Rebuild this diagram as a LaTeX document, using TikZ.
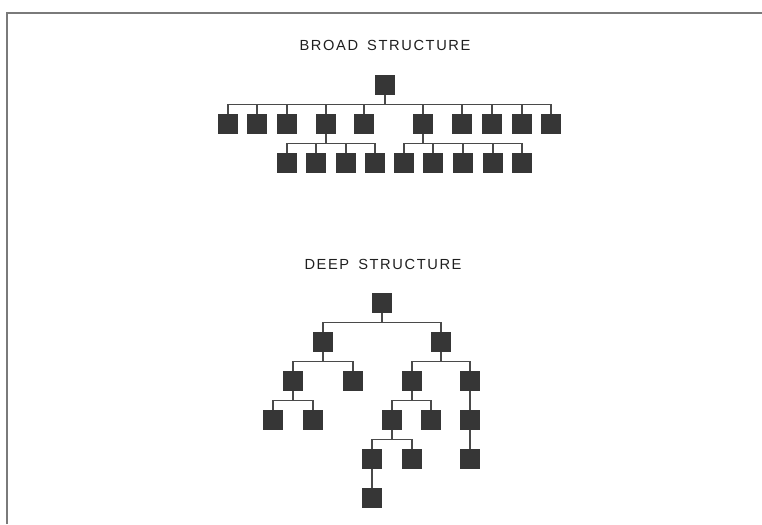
\documentclass[tikz,border=0pt]{standalone}
\usepackage{fontspec}
\setsansfont[LetterSpace=11, WordSpace=1.6]{Liberation Sans}
\usepackage{tikz}
\usetikzlibrary{positioning, calc}
\usepackage{xcolor}
\definecolor{boxgrey}{HTML}{363636}
\definecolor{linegrey}{HTML}{4A4A4A}
\definecolor{framegrey}{HTML}{7A7A7A}

\begin{document}
\begin{tikzpicture}[
    x=0.03cm, y=-0.03cm,
    box/.style = {rectangle, draw=boxgrey, fill=boxgrey, inner sep=0pt, minimum size=0.57cm},
    link/.style = {draw=linegrey, line width=1.1pt},
    heading/.style = {font=\sffamily\fontsize{12.5}{14}\selectfont, text=black!88},
    frame/.style = {draw=framegrey, line width=1.4pt}
]
\useasboundingbox (0,0) rectangle (762,524);

% Frame
\coordinate (fl) at (7,524);
\coordinate (fc) at (7,13);
\coordinate (fr) at (762,13);
\draw[frame] (fl) -- (fc) -- (fr);

% Titles
\node[heading] (tbroad) at (385,45) {BROAD STRUCTURE};
\node[heading] (tdeep) at (383,264) {DEEP STRUCTURE};

% Broad structure
\node[box] (r) at (385,85) {};
% Row 1
\node[box] (a1) at (228,124) {};
\node[box] (a2) at (257,124) {};
\node[box] (a3) at (287,124) {};
\node[box] (a4) at (326,124) {};
\node[box] (a5) at (364,124) {};
\node[box] (a6) at (423,124) {};
\node[box] (a7) at (462,124) {};
\node[box] (a8) at (492,124) {};
\node[box] (a9) at (522,124) {};
\node[box] (a10) at (551,124) {};
% Row 2
\node[box] (b1) at (287,163) {};
\node[box] (b2) at (316,163) {};
\node[box] (b3) at (346,163) {};
\node[box] (b4) at (375,163) {};
\node[box] (b5) at (404,163) {};
\node[box] (b6) at (433,163) {};
\node[box] (b7) at (463,163) {};
\node[box] (b8) at (493,163) {};
\node[box] (b9) at (522,163) {};

% Broad edges
\draw[link] (r.south) -- ++(0,9.5) -| (a1.north);
\draw[link] (r.south) -- ++(0,9.5) -| (a2.north);
\draw[link] (r.south) -- ++(0,9.5) -| (a3.north);
\draw[link] (r.south) -- ++(0,9.5) -| (a4.north);
\draw[link] (r.south) -- ++(0,9.5) -| (a5.north);
\draw[link] (r.south) -- ++(0,9.5) -| (a6.north);
\draw[link] (r.south) -- ++(0,9.5) -| (a7.north);
\draw[link] (r.south) -- ++(0,9.5) -| (a8.north);
\draw[link] (r.south) -- ++(0,9.5) -| (a9.north);
\draw[link] (r.south) -- ++(0,9.5) -| (a10.north);

\draw[link] (a4.south) -- ++(0,9.5) -| (b1.north);
\draw[link] (a4.south) -- ++(0,9.5) -| (b2.north);
\draw[link] (a4.south) -- ++(0,9.5) -| (b3.north);
\draw[link] (a4.south) -- ++(0,9.5) -| (b4.north);

\draw[link] (a6.south) -- ++(0,9.5) -| (b5.north);
\draw[link] (a6.south) -- ++(0,9.5) -| (b6.north);
\draw[link] (a6.south) -- ++(0,9.5) -| (b7.north);
\draw[link] (a6.south) -- ++(0,9.5) -| (b8.north);
\draw[link] (a6.south) -- ++(0,9.5) -| (b9.north);

% Deep structure
\node[box] (d) at (382,303) {};
% Level 1
\node[box] (dl) at (323,342) {};
\node[box] (dr) at (441,342) {};
% Level 2
\node[box] (dll) at (293,381) {};
\node[box] (dlr) at (353,381) {};
\node[box] (drl) at (412,381) {};
\node[box] (drr) at (470,381) {};
% Level 3
\node[box] (dlll) at (273,420) {};
\node[box] (dllr) at (313,420) {};
\node[box] (drll) at (392,420) {};
\node[box] (drlr) at (431,420) {};
\node[box] (drrc) at (470,420) {};
% Level 4
\node[box] (drlll) at (372,459) {};
\node[box] (drllr) at (412,459) {};
\node[box] (drrcc) at (470,459) {};
% Level 5
\node[box] (drllll) at (372,498) {};

% Deep edges
\draw[link] (d.south) -- ++(0,9.5) -| (dl.north);
\draw[link] (d.south) -- ++(0,9.5) -| (dr.north);

\draw[link] (dl.south) -- ++(0,9.5) -| (dll.north);
\draw[link] (dl.south) -- ++(0,9.5) -| (dlr.north);
\draw[link] (dr.south) -- ++(0,9.5) -| (drl.north);
\draw[link] (dr.south) -- ++(0,9.5) -| (drr.north);

\draw[link] (dll.south) -- ++(0,9.5) -| (dlll.north);
\draw[link] (dll.south) -- ++(0,9.5) -| (dllr.north);
\draw[link] (drl.south) -- ++(0,9.5) -| (drll.north);
\draw[link] (drl.south) -- ++(0,9.5) -| (drlr.north);
\draw[link] (drr.south) -- (drrc.north);

\draw[link] (drll.south) -- ++(0,9.5) -| (drlll.north);
\draw[link] (drll.south) -- ++(0,9.5) -| (drllr.north);
\draw[link] (drrc.south) -- (drrcc.north);

\draw[link] (drlll.south) -- (drllll.north);

\end{tikzpicture}
\end{document}
